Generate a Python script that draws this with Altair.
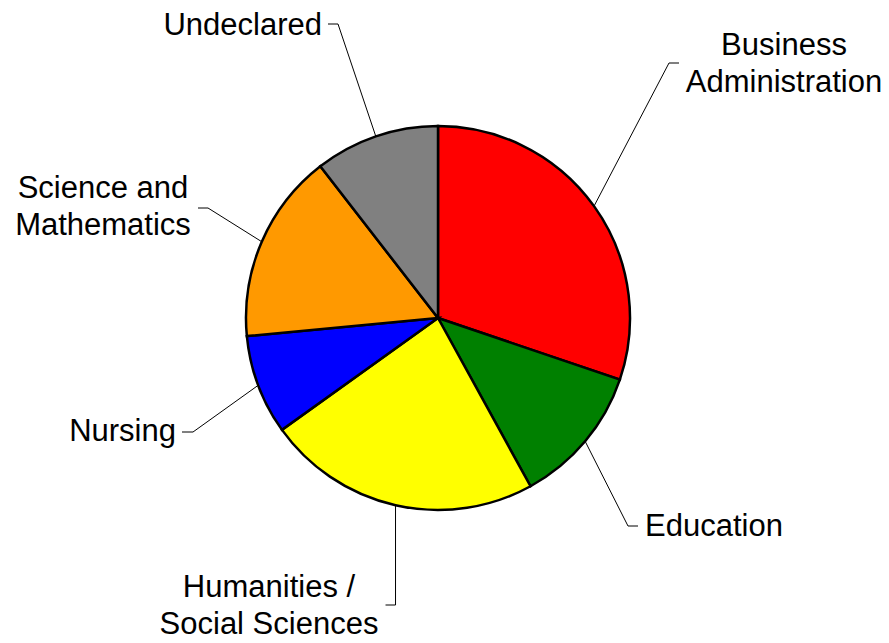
import math
import altair as alt
import pandas as pd

# ---- data ----
categories = [
    "Business Administration",
    "Education",
    "Humanities / Social Sciences",
    "Nursing",
    "Science and Mathematics",
    "Undeclared",
]
shares = [30.2, 11.8, 23.1, 8.4, 16.0, 10.5]
label_lines = [
    ["Business", "Administration"],
    ["Education"],
    ["Humanities /", "Social Sciences"],
    ["Nursing"],
    ["Science and", "Mathematics"],
    ["Undeclared"],
]
colors = ["#ff0000", "#008000", "#ffff00", "#0000ff", "#ff9900", "#808080"]

# ---- layout (pixels, relative to pie centre) ----
CX, CY, R = 430, 310, 192
FONT = "Liberation Sans"
FS = 31
LH = 37
# elbow of each leader line, horizontal tail length, label anchor, alignment
elbows = [(231, -255), (190, 208), (None, 287), (-245, 114), (-230, -110), (-100, -294)]
tails = [10, 10, -10, -11, -10, -10]
anchors = [(346, -263), (207, 218), (-169, 279), (-262, 123), (-335, -120), (-116, -283)]
aligns = ["center", "left", "center", "right", "center", "right"]

total = sum(shares)
rows, line_rows, text_rows = [], [], []
acc = 0.0
for i, (c, v) in enumerate(zip(categories, shares)):
    a0 = acc / total * 2 * math.pi
    acc += v
    a1 = acc / total * 2 * math.pi
    mid = (a0 + a1) / 2
    rows.append({"cat": c, "start": a0, "end": a1})
    sx = CX + R * math.sin(mid)
    sy = CY - R * math.cos(mid)
    ex, ey = elbows[i]
    ex = sx if ex is None else CX + ex
    ey = CY + ey
    line_rows += [
        {"cat": c, "k": 0, "px": sx, "py": sy},
        {"cat": c, "k": 1, "px": ex, "py": ey},
        {"cat": c, "k": 2, "px": ex + tails[i], "py": ey},
    ]
    for j, t in enumerate(label_lines[i]):
        text_rows.append({
            "cat": c, "txt": t, "align": aligns[i],
            "px": CX + anchors[i][0], "py": CY + anchors[i][1] + j * LH,
        })

pie_df = pd.DataFrame(rows)
line_df = pd.DataFrame(line_rows)
text_df = pd.DataFrame(text_rows)

pie = alt.Chart(pie_df).mark_arc(radius=R, stroke="black", strokeWidth=2.5).encode(
    theta=alt.Theta("start:Q", scale=None),
    theta2="end:Q",
    color=alt.Color("cat:N", scale=alt.Scale(domain=categories, range=colors), legend=None),
    x=alt.value(CX),
    y=alt.value(CY),
)

leaders = alt.Chart(line_df).mark_line(color="black", strokeWidth=1).encode(
    x=alt.X("px:Q", scale=None),
    y=alt.Y("py:Q", scale=None),
    detail="cat:N",
    order="k:Q",
)

def text_layer(al):
    return alt.Chart(text_df).transform_filter(alt.datum.align == al).mark_text(
        align=al, baseline="alphabetic", font=FONT, fontSize=FS, color="black"
    ).encode(
        x=alt.X("px:Q", scale=None),
        y=alt.Y("py:Q", scale=None),
        text="txt:N",
    )

chart = alt.layer(
    pie, leaders, text_layer("left"), text_layer("center"), text_layer("right")
).properties(
    width=873, height=627, autosize=alt.AutoSizeParams(type="none"), padding=0
).configure_view(stroke=None)

chart.save("out.html", embed_options={"renderer": "svg", "actions": False})
